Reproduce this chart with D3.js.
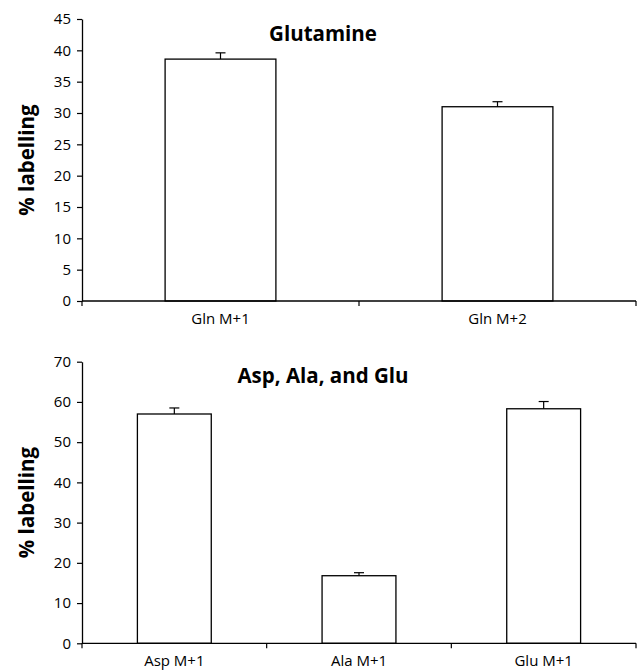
<!DOCTYPE html>
<html>
<head>
<meta charset="utf-8">
<script src="https://cdn.jsdelivr.net/npm/d3@7"></script>
<style>
  html, body { margin: 0; padding: 0; background: #fff; }
  svg { display: block; }
</style>
</head>
<body>
<svg id="chart" width="640" height="670"></svg>
<script>
// ---- Data ----
const glnCategories = ["Gln M+1", "Gln M+2"];
const glnValues = [38.6, 31.0];
const glnErrors = [1.0, 0.8];
const glnTicks = [0, 5, 10, 15, 20, 25, 30, 35, 40, 45];

const aaCategories = ["Asp M+1", "Ala M+1", "Glu M+1"];
const aaValues = [57.0, 16.8, 58.3];
const aaErrors = [1.5, 0.75, 1.8];
const aaTicks = [0, 10, 20, 30, 40, 50, 60, 70];

const titles = ["Glutamine", "Asp, Ala, and Glu"];
const yLabel = "% labelling";

const svg = d3.select("#chart");
const FONT = "'Open Sans', sans-serif";

function panel(opts) {
  const { cats, vals, errs, ticks, yMax, top, bottom, title, titleY } = opts;
  const left = 82, right = 636;
  const x = d3.scaleBand().domain(cats).range([left, right]).paddingInner(0).paddingOuter(0);
  const y = d3.scaleLinear().domain([0, yMax]).range([bottom, top]);
  const g = svg.append("g");

  // bars
  const bw = x.bandwidth() * 0.4;
  g.selectAll("rect.bar").data(cats).enter().append("rect")
    .attr("x", d => x(d) + x.bandwidth() / 2 - bw / 2)
    .attr("y", (d, i) => y(vals[i]))
    .attr("width", bw)
    .attr("height", (d, i) => y(0) - y(vals[i]))
    .attr("fill", "#fff")
    .attr("stroke", "#000")
    .attr("stroke-width", 1.3);

  // error bars (upper only)
  const cap = 5;
  cats.forEach((c, i) => {
    const cx = x(c) + x.bandwidth() / 2;
    g.append("line").attr("x1", cx).attr("x2", cx)
      .attr("y1", y(vals[i])).attr("y2", y(vals[i] + errs[i]))
      .attr("stroke", "#000").attr("stroke-width", 1.2);
    g.append("line").attr("x1", cx - cap).attr("x2", cx + cap)
      .attr("y1", y(vals[i] + errs[i])).attr("y2", y(vals[i] + errs[i]))
      .attr("stroke", "#000").attr("stroke-width", 1.2);
  });

  // y axis
  const yAxis = d3.axisLeft(y).tickValues(ticks).tickSize(5).tickPadding(6).tickSizeOuter(0);
  const ya = g.append("g").attr("transform", `translate(${left},0)`).call(yAxis);
  ya.attr("font-size", null).attr("font-family", null);
  ya.select(".domain").attr("stroke", "#000").attr("stroke-width", 1.3);
  ya.selectAll(".tick line").attr("stroke", "#000").attr("stroke-width", 1.2);
  ya.selectAll("text").style("font-family", FONT).style("font-size", "15px").attr("fill", "#000");

  // x axis: ticks at category boundaries
  const bounds = cats.map(c => x(c)).concat([right]);
  g.append("line").attr("x1", left).attr("x2", right).attr("y1", bottom).attr("y2", bottom)
    .attr("stroke", "#000").attr("stroke-width", 1.3);
  g.selectAll("line.xt").data(bounds).enter().append("line")
    .attr("x1", d => d).attr("x2", d => d)
    .attr("y1", bottom).attr("y2", bottom + 5)
    .attr("stroke", "#000").attr("stroke-width", 1.2);
  g.selectAll("text.xl").data(cats).enter().append("text")
    .attr("x", d => x(d) + x.bandwidth() / 2)
    .attr("y", bottom + 23)
    .attr("text-anchor", "middle")
    .style("font-family", FONT).style("font-size", "15px").attr("fill", "#000")
    .text(d => d);

  // title
  g.append("text").attr("x", 323).attr("y", titleY)
    .attr("text-anchor", "middle")
    .style("font-family", FONT).style("font-weight", "bold").style("font-size", "20.5px")
    .attr("fill", "#000").text(title);

  // y label
  g.append("text")
    .attr("transform", `translate(34,${(top + bottom) / 2}) rotate(-90)`)
    .attr("text-anchor", "middle")
    .style("font-family", FONT).style("font-weight", "bold").style("font-size", "20.5px")
    .attr("fill", "#000").text(yLabel);
}

panel({ cats: glnCategories, vals: glnValues, errs: glnErrors, ticks: glnTicks, yMax: 45,
        top: 19, bottom: 301, title: titles[0], titleY: 41 });
panel({ cats: aaCategories, vals: aaValues, errs: aaErrors, ticks: aaTicks, yMax: 70,
        top: 361.7, bottom: 643.3, title: titles[1], titleY: 383 });
</script>
</body>
</html>
